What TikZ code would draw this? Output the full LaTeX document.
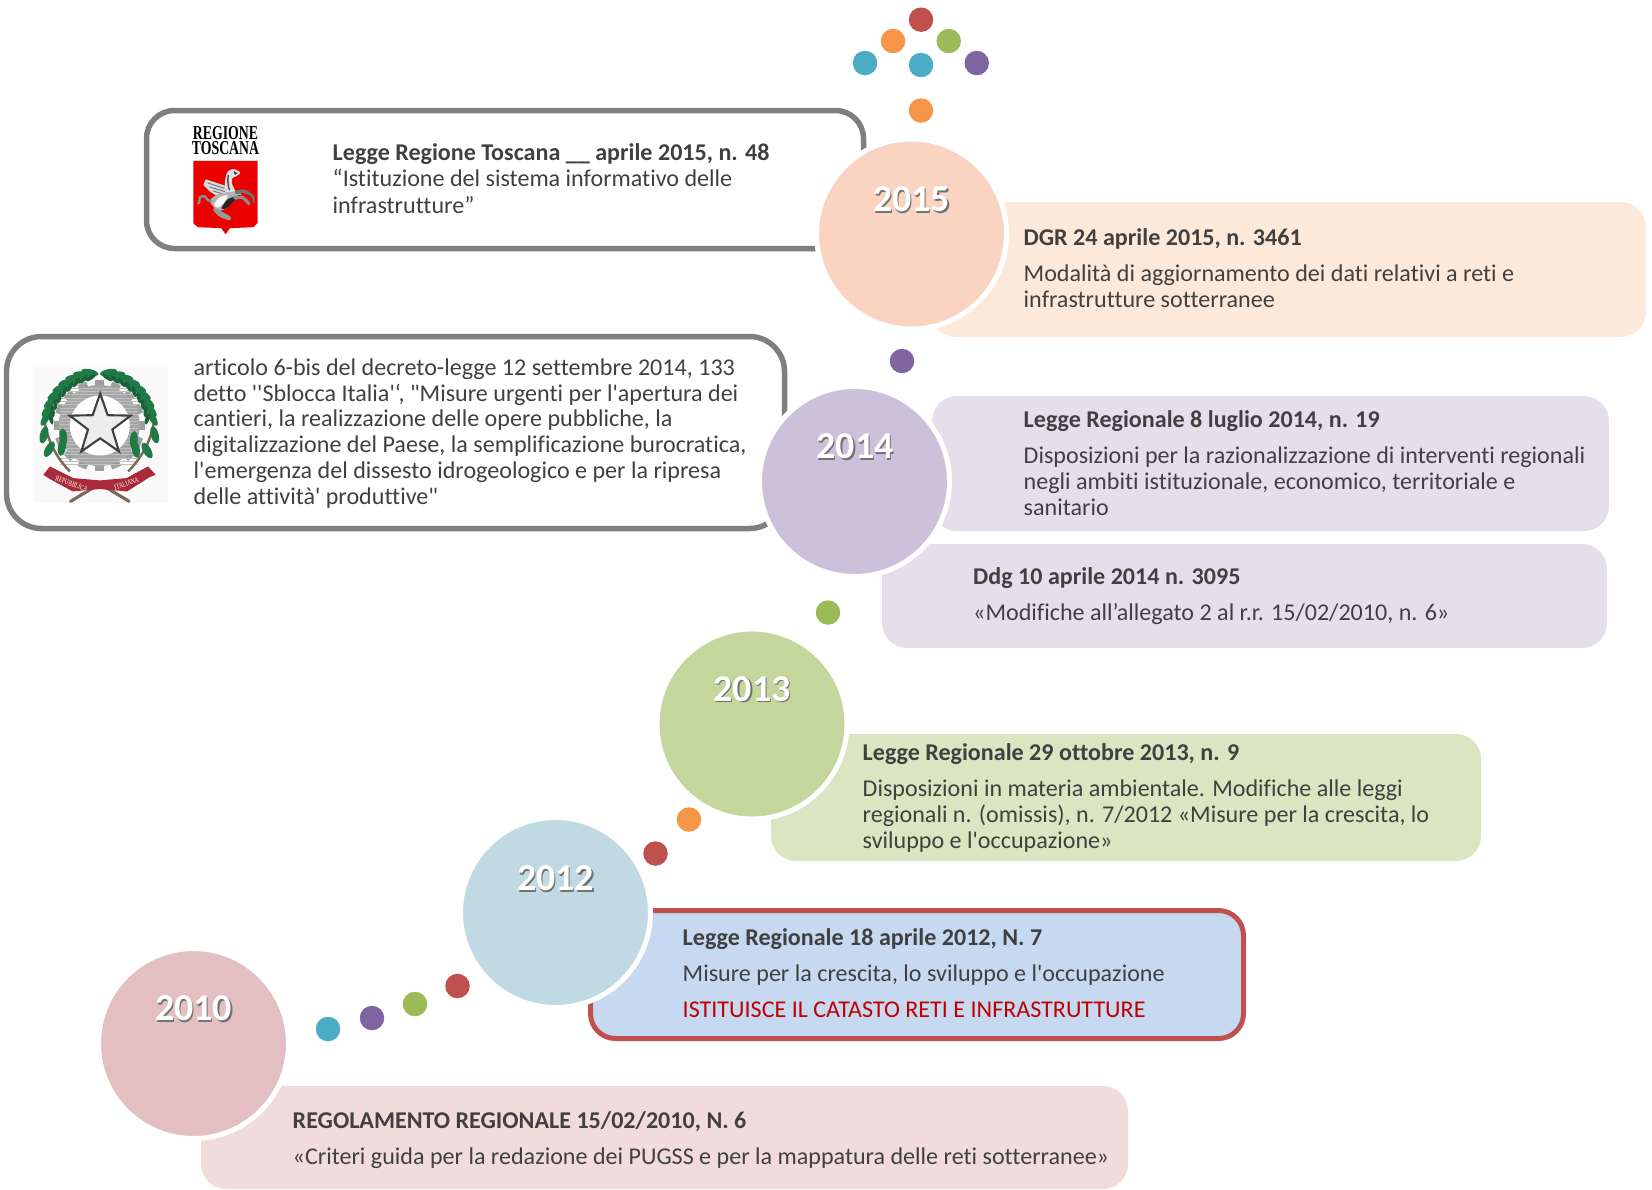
\documentclass[tikz,border=0pt]{standalone}
\usepackage{fontspec}
\setmainfont{Carlito}[Ligatures={TeXOff,NoCommon}]
\newfontfamily\logofont[FakeStretch=0.70]{Liberation Serif}
\usetikzlibrary{shapes.geometric,positioning}
\definecolor{dotred}{HTML}{C0504D}
\definecolor{dotorange}{HTML}{F79646}
\definecolor{dotgreen}{HTML}{9BBB59}
\definecolor{dotblue}{HTML}{4BACC6}
\definecolor{dotpurple}{HTML}{8064A2}
\definecolor{framegray}{HTML}{7F7F7F}
\definecolor{bodytext}{HTML}{404040}
\definecolor{leafgreen}{HTML}{1F7A45}
\definecolor{ribbonred}{HTML}{A82A3C}
\definecolor{stemgray}{HTML}{7A6A5C}
\definecolor{peachbox}{HTML}{FDE9D9}
\definecolor{peachcirc}{HTML}{FAD4C0}
\definecolor{lilacbox}{HTML}{E5DFEC}
\definecolor{lilaccirc}{HTML}{CCC1DA}
\definecolor{olivebox}{HTML}{DBE5C1}
\definecolor{olivecirc}{HTML}{C3D69B}
\definecolor{skybox}{HTML}{C6D9F1}
\definecolor{skycirc}{HTML}{C0D9E3}
\definecolor{rosebox}{HTML}{F2DCDB}
\definecolor{rosecirc}{HTML}{E3BFC1}
\newcommand{\yearshadow}[1]{\rlap{\kern0.4pt\raisebox{-0.4pt}{\textcolor{black!55}{#1}}}#1}
\newcommand{\gap}{\\[2.75pt]}

\begin{document}
\begin{tikzpicture}[
  y=-1cm,
  pastel/.style={rectangle, inner sep=0pt, rounded corners=2.5mm},
  greyframe/.style={rectangle, inner sep=0pt, draw=framegray, fill=white, line width=0.055cm, rounded corners=2.8mm},
  yearcircle/.style={circle, inner sep=0pt, minimum size=1.90cm, draw=white, line width=0.05cm},
  yearlabel/.style={inner sep=0pt, text=white, font=\fontsize{10.8}{12}\selectfont\bfseries},
  dot/.style={circle, inner sep=0pt, minimum size=0.245cm},
  bodylabel/.style={anchor=west, align=left, inner sep=0pt, text=bodytext, font=\fontsize{6.85}{7.48}\selectfont}
]
\useasboundingbox (0,0) rectangle (16.52,11.89);

% frames and boxes
\node[greyframe, minimum width=7.17cm, minimum height=1.38cm] (frame15) at (5.05,1.795) {};
\node[greyframe, minimum width=7.78cm, minimum height=1.92cm, rounded corners=3.5mm] (frame14) at (3.955,4.325) {};

\node[pastel, fill=peachbox, minimum width=7.16cm, minimum height=1.35cm] (box15) at (12.88,2.695) {};
\node[pastel, fill=lilacbox, minimum width=6.77cm, minimum height=1.35cm] (box14a) at (12.705,4.635) {};
\node[pastel, fill=lilacbox, minimum width=7.25cm, minimum height=1.04cm] (box14b) at (12.445,5.96) {};
\node[pastel, fill=olivebox, minimum width=7.10cm, minimum height=1.27cm] (box13) at (11.26,7.975) {};
\node[pastel, fill=skybox, draw=dotred, line width=0.05cm, minimum width=6.53cm, minimum height=1.28cm] (box12) at (9.17,9.745) {};
\node[pastel, fill=rosebox, minimum width=9.27cm, minimum height=1.03cm] (box10) at (6.645,11.375) {};

% circles
\node[yearcircle, fill=peachcirc] (circ15) at (9.115,2.34) {};
\node[yearcircle, fill=lilaccirc] (circ14) at (8.545,4.815) {};
\node[yearcircle, fill=olivecirc] (circ13) at (7.52,7.24) {};
\node[yearcircle, fill=skycirc] (circ12) at (5.555,9.125) {};
\node[yearcircle, fill=rosecirc] (circ10) at (1.935,10.435) {};

\node[yearlabel] (year15) at (9.115,2.00) {\yearshadow{2015}};
\node[yearlabel] (year14) at (8.55,4.47) {\yearshadow{2014}};
\node[yearlabel] (year13) at (7.52,6.895) {\yearshadow{2013}};
\node[yearlabel] (year12) at (5.555,8.79) {\yearshadow{2012}};
\node[yearlabel] (year10) at (1.935,10.09) {\yearshadow{2010}};

% dots
\node[dot, fill=dotred] (dot1) at (9.21,0.197) {};
\node[dot, fill=dotorange] (dot2) at (8.93,0.41) {};
\node[dot, fill=dotgreen] (dot3) at (9.487,0.41) {};
\node[dot, fill=dotblue] (dot4) at (8.65,0.63) {};
\node[dot, fill=dotblue] (dot5) at (9.21,0.65) {};
\node[dot, fill=dotpurple] (dot6) at (9.767,0.63) {};
\node[dot, fill=dotorange] (dot7) at (9.21,1.105) {};
\node[dot, fill=dotpurple] (dot8) at (9.02,3.61) {};
\node[dot, fill=dotgreen] (dot9) at (8.28,6.125) {};
\node[dot, fill=dotorange] (dot10) at (6.89,8.195) {};
\node[dot, fill=dotred] (dot11) at (6.555,8.535) {};
\node[dot, fill=dotred] (dot12) at (4.575,9.86) {};
\node[dot, fill=dotgreen] (dot13) at (4.15,10.04) {};
\node[dot, fill=dotpurple] (dot14) at (3.72,10.18) {};
\node[dot, fill=dotblue] (dot15) at (3.28,10.29) {};

% texts
\node[bodylabel] (text15a) at (3.32,1.785) {\textbf{Legge Regione Toscana \_\_ aprile 2015, n. 48}\\“Istituzione del sistema informativo delle\\infrastrutture”};
\node[bodylabel] (text15b) at (10.23,2.685) {\textbf{DGR 24 aprile 2015, n. 3461}\gap Modalità di aggiornamento dei dati relativi a reti e\\infrastrutture sotterranee};
\node[bodylabel, font=\fontsize{6.85}{7.37}\selectfont] (text14a) at (1.93,4.335) {articolo 6-bis del decreto-legge 12 settembre 2014, 133\\detto ''Sblocca Italia'‘, "Misure urgenti per l'apertura dei\\cantieri, la realizzazione delle opere pubbliche, la\\digitalizzazione del Paese, la semplificazione burocratica,\\l'emergenza del dissesto idrogeologico e per la ripresa\\delle attività' produttive"};
\node[bodylabel] (text14b) at (10.23,4.63) {\textbf{Legge Regionale 8 luglio 2014, n. 19}\gap Disposizioni per la razionalizzazione di interventi regionali\\negli ambiti istituzionale, economico, territoriale e\\sanitario};
\node[bodylabel] (text14c) at (9.725,5.96) {\textbf{Ddg 10 aprile 2014 n. 3095}\gap «Modifiche all’allegato 2 al r.r. 15/02/2010, n. 6»};
\node[bodylabel] (text13) at (8.62,7.98) {\textbf{Legge Regionale 29 ottobre 2013, n. 9}\gap Disposizioni in materia ambientale. Modifiche alle leggi\\regionali n. (omissis), n. 7/2012 «Misure per la crescita, lo\\sviluppo e l'occupazione»};
\node[bodylabel] (text12) at (6.82,9.73) {\textbf{Legge Regionale 18 aprile 2012, N. 7}\gap Misure per la crescita, lo sviluppo e l'occupazione\gap \textcolor{red!75!black}{ISTITUISCE IL CATASTO RETI E INFRASTRUTTURE}};
\node[bodylabel] (text10) at (2.92,11.405) {\textbf{REGOLAMENTO REGIONALE 15/02/2010, N. 6}\gap «Criteri guida per la redazione dei PUGSS e per la mappatura delle reti sotterranee»};

% logo regione
\node[inner sep=0pt, align=center, font=\fontsize{5.6}{4.3}\selectfont\logofont\bfseries, text=black] (logoname) at (2.255,1.41) {REGIONE\\TOSCANA};
\begin{scope}[shift={(1.85,1.55)}, x=0.003333cm, y=-0.003333cm]
\fill[red!92!black] (25,18) -- (218,18) -- (218,205) -- (206,217) -- (135,220) -- (122,238) -- (109,220) -- (38,217) -- (25,205) -- cycle;
% pegasus
\fill[black!15] (62,73) -- (120,92) -- (126,120) -- (100,126) -- (75,110) -- (55,90) -- cycle;
\draw[black!55, line width=0.25pt] (68,84) -- (118,100) (74,96) -- (120,110) (84,108) -- (118,118);
\fill[black!12] plot[smooth cycle] coordinates {(120,85) (127,52) (145,42) (166,53) (152,65) (142,70) (142,88) (150,110) (126,114)};
\draw[black!70, line width=0.4pt] (130,60) .. controls (128,75) and (128,90) .. (134,106);
\fill[black!75] (146,48) -- (158,54) -- (150,60) -- cycle;
\fill[black!30] plot[smooth cycle] coordinates {(75,137) (100,118) (150,110) (170,120) (150,136) (125,160) (100,168) (85,155)};
\fill[black!85] plot[smooth cycle] coordinates {(110,160) (128,134) (158,122) (168,122) (148,138) (126,160)};
\fill[white] plot[smooth cycle] coordinates {(88,148) (106,126) (128,122) (116,145) (98,158)};
\fill[black!55] plot[smooth cycle] coordinates {(150,108) (180,104) (208,124) (206,146) (200,126) (176,114) (156,118)};
\fill[black!45] plot[smooth cycle] coordinates {(145,124) (175,124) (196,144) (190,150) (170,132) (150,134)};
\fill[black!40] plot[smooth cycle] coordinates {(90,160) (110,170) (136,185) (135,196) (105,186) (85,166)};
\draw[black!45, line width=0.7pt, line cap=round] (78,138) .. controls (62,140) and (68,120) .. (50,124) .. controls (38,128) and (48,140) .. (40,146);
\end{scope}

% emblem
\begin{scope}[shift={(0.30,3.60)}, x=0.003333cm, y=-0.003333cm]
\fill[black!2] (10,20) rectangle (415,430);
\foreach \a in {0,22.5,...,337.5}
  \fill[black!38, rotate around={\a:(208,197)}] (194,60) rectangle (222,90);
\fill[black!35] (208,197) circle (122);
\foreach \yy in {85,95,...,315}
  \draw[white!75!black, line width=0.25pt] (90,\yy) -- (326,\yy);
\fill[white] (210,197) circle (90);
\node[star, star points=5, star point ratio=2.5, inner sep=0pt, minimum size=0.64cm, fill=black!7, draw=black!75, line width=0.6pt] (logostar) at (211,197) {};
% branches
\draw[stemgray, line width=0.7pt] (45,190) .. controls (55,250) and (85,300) .. (120,335);
\draw[stemgray, line width=0.7pt] (372,190) .. controls (362,250) and (330,300) .. (295,335);
\foreach \a in {100,109,...,172} {
  \fill[leafgreen, rotate around={\a+68:({208+162*cos(\a)},{197-162*sin(\a)})}] ({208+162*cos(\a)},{197-162*sin(\a)}) ellipse (26 and 10);
  \fill[leafgreen!80!black, rotate around={\a+112:({208+146*cos(\a)},{197-146*sin(\a)})}] ({208+146*cos(\a)},{197-146*sin(\a)}) ellipse (18 and 6);
}
\foreach \a in {80,71,...,8} {
  \fill[leafgreen, rotate around={\a+112:({208+162*cos(\a)},{197-162*sin(\a)})}] ({208+162*cos(\a)},{197-162*sin(\a)}) ellipse (26 and 10);
  \fill[leafgreen!80!black, rotate around={\a+68:({208+146*cos(\a)},{197-146*sin(\a)})}] ({208+146*cos(\a)},{197-146*sin(\a)}) ellipse (18 and 6);
}
% oak leaves
\foreach \x/\y/\t in {42/225/75,58/268/60,100/232/95,96/262/80}
  \fill[leafgreen, rotate around={\t:(\x,\y)}] (\x,\y) ellipse (26 and 12);
\foreach \x/\y/\t in {375/225/105,352/272/120,312/240/85,318/268/100}
  \fill[leafgreen, rotate around={\t:(\x,\y)}] (\x,\y) ellipse (26 and 12);
% ribbon
\draw[stemgray, line width=0.9pt, line cap=round] (205,375) -- (122,425);
\draw[stemgray, line width=0.9pt, line cap=round] (215,375) -- (298,425);
\fill[ribbonred] (40,345) -- (60,320) -- (130,355) -- (210,362) -- (290,355) -- (355,320) -- (378,345) -- (360,352) -- (292,395) -- (210,388) -- (128,395) -- (60,358) -- cycle;
\node[inner sep=0pt, rotate=-20, text=white!85!yellow, font=\fontsize{2.2}{3}\selectfont\logofont] (logorep) at (125,372) {REPUBBLICA};
\node[inner sep=0pt, rotate=20, text=white!85!yellow, font=\fontsize{2.2}{3}\selectfont\logofont] (logoita) at (290,372) {ITALIANA};
\end{scope}

\end{tikzpicture}
\end{document}
